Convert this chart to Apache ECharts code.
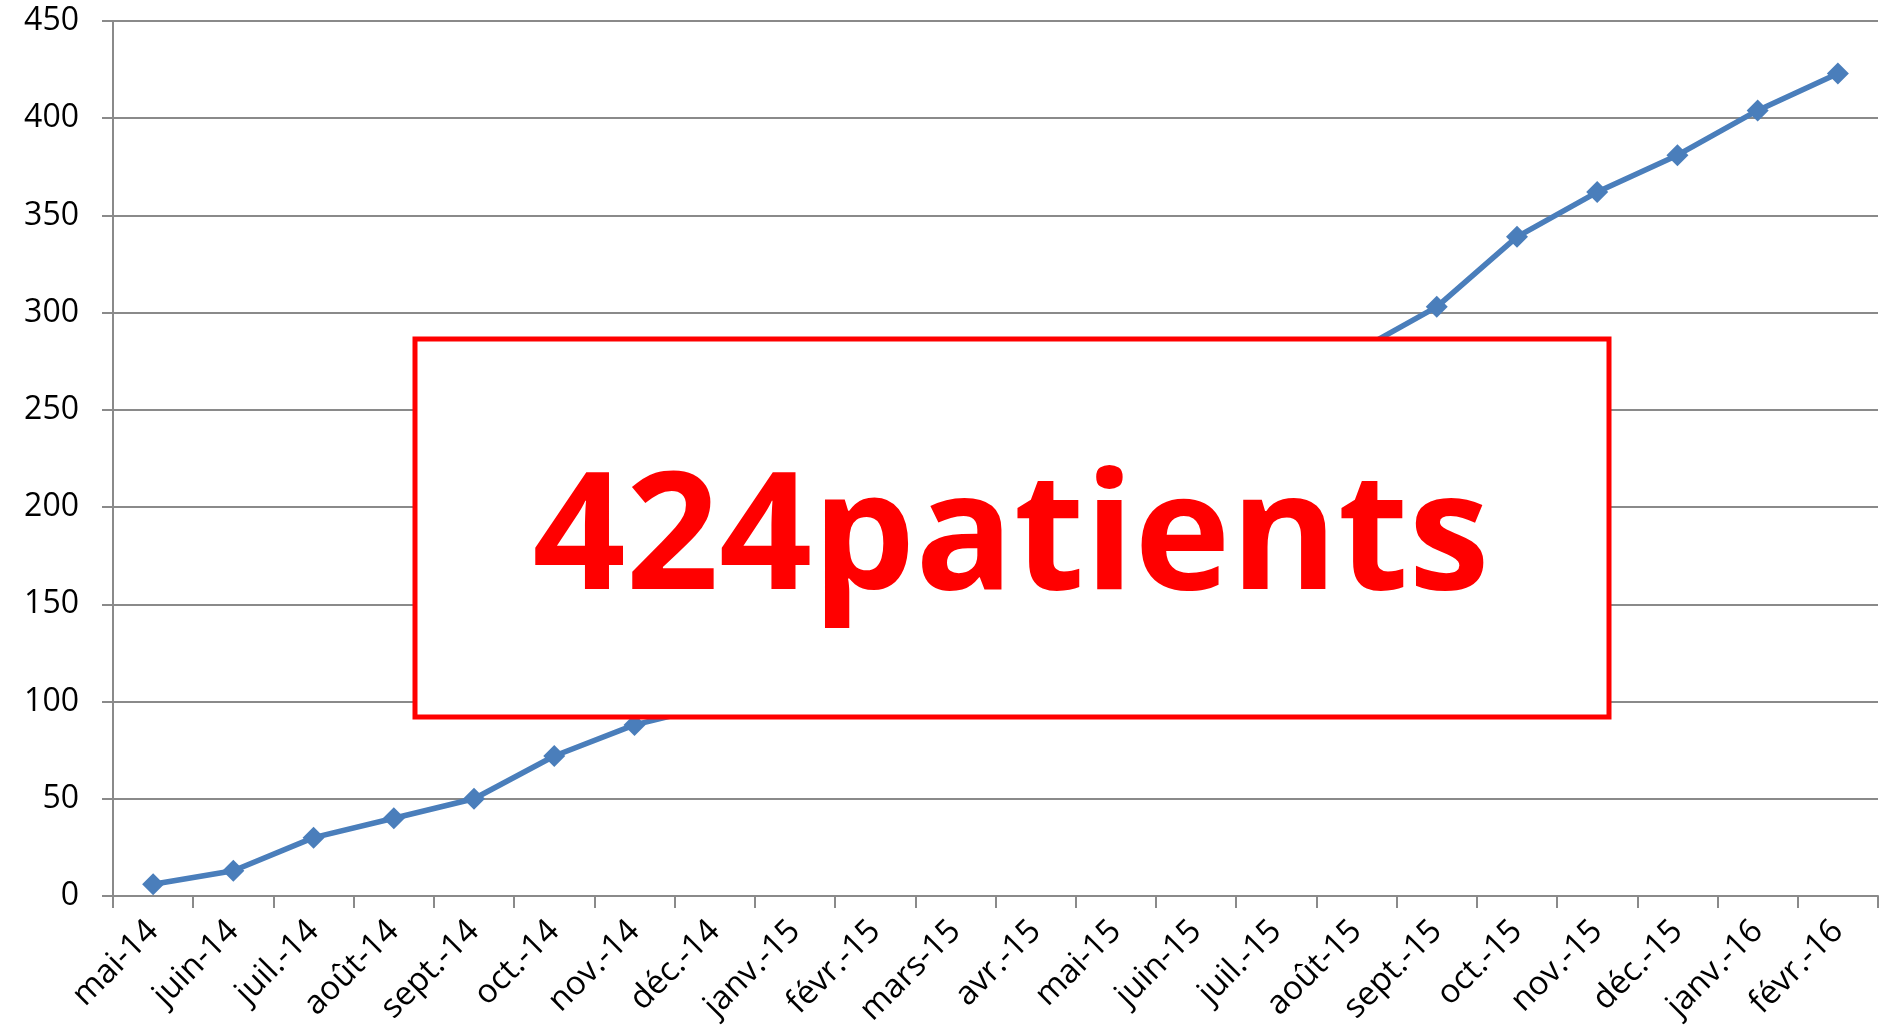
<!DOCTYPE html>
<html>
<head>
<meta charset="utf-8">
<script src="https://cdn.jsdelivr.net/npm/echarts@6/dist/echarts.min.js"></script>
<style>
html,body{margin:0;padding:0;background:#fff;}
#chart{width:1886px;height:1036px;}
</style>
</head>
<body>
<div id="chart"></div>
<script>
const categories = ['mai-14','juin-14','juil.-14','août-14','sept.-14','oct.-14','nov.-14','déc.-14',
  'janv.-15','févr.-15','mars-15','avr.-15','mai-15','juin-15','juil.-15','août-15',
  'sept.-15','oct.-15','nov.-15','déc.-15','janv.-16','févr.-16'];
// values from déc.-14 to août-15 are hidden behind the annotation box (estimated)
const patients = [6,13,30,40,50,72,88,98,116,134,153,172,193,218,248,280,303,339,362,381,404,423];
const yTicks = {min:0, max:450, interval:50};
const annotationText = '424patients';

const chart = echarts.init(document.getElementById('chart'), null, {renderer:'canvas'});
const gray = '#8a8a8a';
const font = '"Open Sans", Lato, sans-serif';
chart.setOption({
  animation:false,
  backgroundColor:'#fff',
  grid:{left:113, right:8, top:21, bottom:140, containLabel:false},
  xAxis:{
    type:'category', data:categories, boundaryGap:true,
    axisLine:{show:true, lineStyle:{color:gray, width:2}},
    axisTick:{show:true, length:12, alignWithLabel:false, lineStyle:{color:gray, width:2}},
    axisLabel:{rotate:45, interval:0, fontSize:33, color:'#000', fontFamily:font, margin:30},
    splitLine:{show:false}
  },
  yAxis:{
    type:'value', min:yTicks.min, max:yTicks.max, interval:yTicks.interval,
    axisLine:{show:true, lineStyle:{color:gray, width:2}},
    axisTick:{show:true, length:11, lineStyle:{color:gray, width:2}},
    axisLabel:{fontSize:32, color:'#000', fontFamily:font, margin:34},
    splitLine:{show:true, lineStyle:{color:gray, width:2}}
  },
  series:[{
    type:'line', data:patients,
    symbol:'diamond', symbolSize:22,
    lineStyle:{color:'#4a7ebb', width:5.5},
    itemStyle:{color:'#4a7ebb'},
    z:3
  }],
  graphic:[{
    type:'group', z:100,
    children:[
      {type:'rect', shape:{x:415, y:339, width:1194, height:378},
       style:{fill:'#fff', stroke:'#ff0000', lineWidth:5}, z:100},
      {type:'text', x:1011, y:543,
       style:{text:annotationText, fill:'#ff0000', font:'bold 163px ' + font,
              align:'center', verticalAlign:'middle'}, z:101}
    ]
  }]
});
</script>
</body>
</html>
